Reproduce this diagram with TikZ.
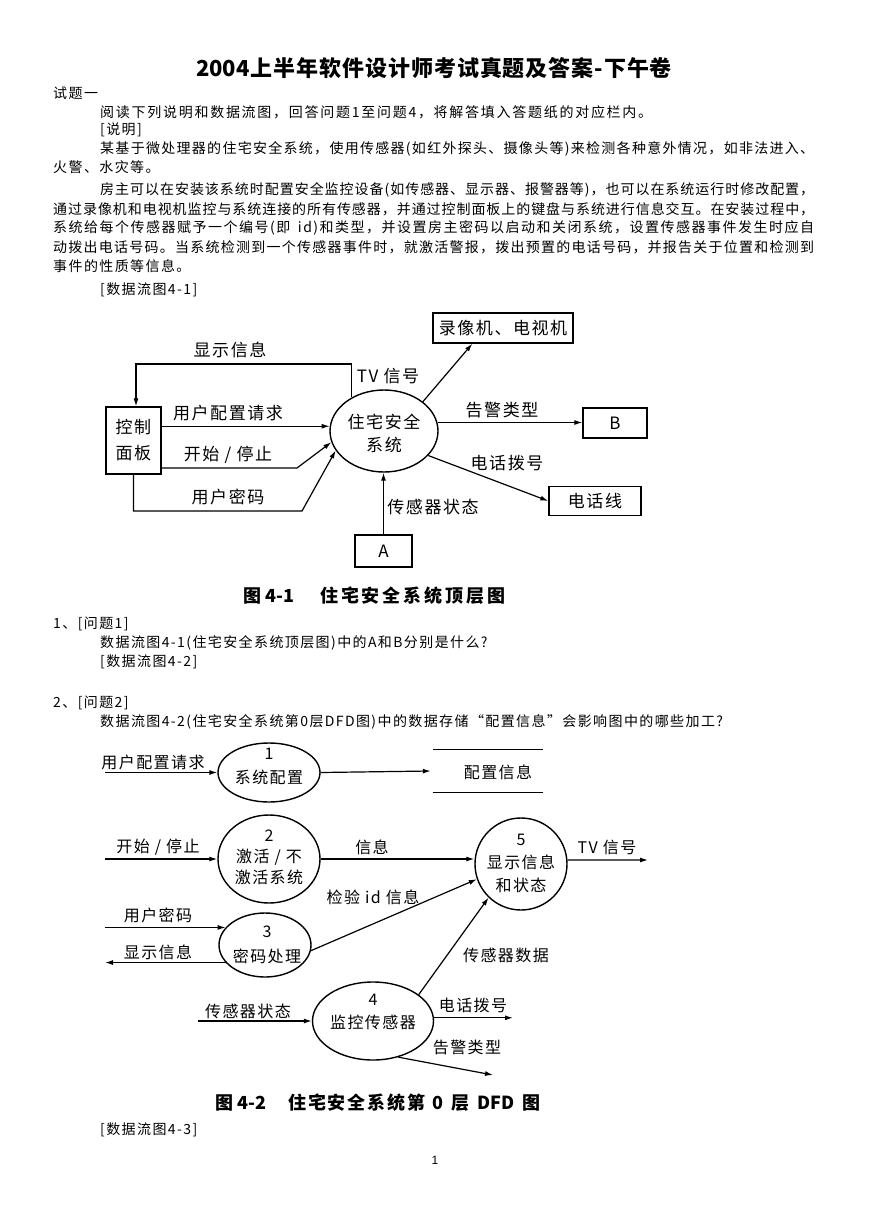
\documentclass[tikz,border=0pt]{standalone}
\usepackage{fontspec}
\setmainfont{Noto Sans CJK SC}
\newfontfamily\bodyf{Noto Sans CJK SC}[LetterSpace=10]
\newfontfamily\diaf{Noto Sans CJK SC}[LetterSpace=9]
\newfontfamily\titf{Noto Sans CJK SC}
\newfontfamily\pagef{Liberation Sans}
\usetikzlibrary{arrows.meta,shapes.geometric}
\makeatletter
\def\spreadbox#1#2{\hbox to #1{\sp@first#2\sp@end}}
\def\sp@first#1{#1\sp@loop}
\def\sp@loop#1{\ifx#1\sp@end\else\hskip 0pt plus 1fil\relax#1\expandafter\sp@loop\fi}
\def\sp@end{}
\makeatother
\newcommand\yr{2004}
\newcommand\dfd{DFD}
\newcommand\fone{4-1}
\newcommand\ftwo{4-2}
\begin{document}
\begin{tikzpicture}[x=1pt,y=-1pt,
  bodytext/.style={anchor=west,inner sep=0pt,font=\bodyf\fontsize{14}{16}\selectfont},
  lblA/.style={inner sep=0pt,font=\diaf\fontsize{17}{20}\selectfont},
  lblB/.style={inner sep=0pt,font=\diaf\fontsize{16}{19}\selectfont},
  ent/.style={draw,line width=1.3pt,inner sep=0pt,font=\diaf\fontsize{17}{20}\selectfont},
  proc/.style={draw,ellipse,line width=1.4pt,inner sep=0pt},
  flow/.style={line width=1.2pt,-{Latex[length=8pt,width=5pt]}},
  capt/.style={anchor=west,inner sep=0pt,font=\titf\bfseries\fontsize{18}{20}\selectfont}]
\useasboundingbox[fill=white] (0,0) rectangle (869,1228);

% ---------- header text ----------
\node[inner sep=0pt,font=\titf\bfseries\fontsize{22}{24}\selectfont] (title) at (434,68)
  {\spreadbox{476pt}{\yr 上半年软件设计师考试真题及答案-下午卷}};
\node[bodytext] (t1) at (53,93) {试题一};
\node[bodytext] (t2) at (100,112) {\spreadbox{552pt}{阅读下列说明和数据流图，回答问题1至问题4，将解答填入答题纸的对应栏内。}};
\node[bodytext] (t3) at (100,130) {[说明]};
\node[bodytext] (t4) at (100,149) {\spreadbox{714pt}{某基于微处理器的住宅安全系统，使用传感器(如红外探头、摄像头等)来检测各种意外情况，如非法进入、}};
\node[bodytext] (t5) at (53,167) {火警、水灾等。};
\node[bodytext] (t6) at (100,190) {\spreadbox{714pt}{房主可以在安装该系统时配置安全监控设备(如传感器、显示器、报警器等)，也可以在系统运行时修改配置，}};
\node[bodytext] (t7) at (53,209) {\spreadbox{761pt}{通过录像机和电视机监控与系统连接的所有传感器，并通过控制面板上的键盘与系统进行信息交互。在安装过程中，}};
\node[bodytext] (t8) at (53,228) {\spreadbox{761pt}{系统给每个传感器赋予一个编号(即\ id)和类型，并设置房主密码以启动和关闭系统，设置传感器事件发生时应自}};
\node[bodytext] (t9) at (53,247) {\spreadbox{761pt}{动拨出电话号码。当系统检测到一个传感器事件时，就激活警报，拨出预置的电话号码，并报告关于位置和检测到}};
\node[bodytext] (t10) at (53,266) {事件的性质等信息。};
\node[bodytext] (t11) at (100,290) {[数据流图4-1]};
\node[bodytext] (q1) at (53,624) {1、[问题1]};
\node[bodytext] (q1b) at (100,643) {数据流图4-1(住宅安全系统顶层图)中的A和B分别是什么?};
\node[bodytext] (q1c) at (100,662) {[数据流图4-2]};
\node[bodytext] (q2) at (53,703) {2、[问题2]};
\node[bodytext] (q2b) at (100,722) {数据流图4-2(住宅安全系统第0层DFD图)中的数据存储“配置信息”会影响图中的哪些加工?};
\node[bodytext] (q3) at (100,1130) {[数据流图4-3]};
\node[inner sep=0pt,font=\pagef\fontsize{12}{14}\selectfont] (pg) at (435,1160) {1};

% ---------- Figure 4-1 ----------
\node[ent,minimum width=140pt,minimum height=30pt] (rec) at (503,328) {录像机、电视机};
\node[ent,minimum width=55pt,minimum height=67pt,align=center,font=\diaf\fontsize{17}{26}\selectfont] (ctrl) at (133.5,440.5) {控制\\面板};
\node[proc,minimum width=108pt,minimum height=82pt] (sys) at (384,431) {};
\node[lblA,align=center,font=\diaf\fontsize{17}{23}\selectfont] (systxt) at (384,433) {住宅安全\\系统};
\node[ent,minimum width=64pt,minimum height=30pt] (B) at (615,423) {B};
\node[ent,minimum width=92pt,minimum height=29pt] (tel) at (595,501) {电话线};
\node[ent,minimum width=57pt,minimum height=32pt] (A) at (383.5,551) {A};

\coordinate (tl) at (136,364);
\draw[flow] (sys.134) |- (tl) -- (tl |- ctrl.north);
\draw[flow] (ctrl.east |- sys.175) -- (sys.175);
\coordinate (b2) at (297,468);
\draw[flow] (ctrl.east |- b2) -- (b2) -- (sys.192);
\coordinate (b3) at (302,511);
\draw[flow] (ctrl.south) |- (b3) -- (sys.202);
\draw[flow] (sys.37) -- ([xshift=40pt]rec.south west);
\draw[flow] (sys.9) -- (B.west |- sys.9);
\draw[flow] (sys.331) -- (tel.west);
\draw[flow] (A.north) -- (A.north |- sys.south);

\node[lblA] (l1) at (230,350) {显示信息};
\node[lblA] (l2) at (388,376) {TV 信号};
\node[lblA] (l3) at (228,413) {用户配置请求};
\node[lblA] (l4) at (228,455) {开始 / 停止};
\node[lblA] (l5) at (228,497) {用户密码};
\node[lblA] (l6) at (502,410) {告警类型};
\node[lblA] (l7) at (507,463) {电话拨号};
\node[lblA] (l8) at (433,507) {传感器状态};

\node[capt] (c1a) at (243,596) {图 4-1};
\node[capt] (c1b) at (320,596) {\spreadbox{185pt}{住宅安全系统顶层图}};

% ---------- Figure 4-2 ----------
\node[proc,minimum width=102pt,minimum height=59pt] (p1) at (269,772.5) {};
\node[lblB,align=center,font=\diaf\fontsize{16}{24}\selectfont] (p1t) at (269,766) {1\\系统配置};
\node[proc,minimum width=102pt,minimum height=88pt] (p2) at (269,859) {};
\node[lblB,align=center,font=\diaf\fontsize{16}{21}\selectfont] (p2t) at (269,857) {2\\激活 / 不\\激活系统};
\node[proc,minimum width=92pt,minimum height=92pt] (p5) at (521,864) {};
\node[lblB,align=center,font=\diaf\fontsize{16}{23}\selectfont] (p5t) at (521,863) {5\\显示信息\\和状态};
\node[proc,minimum width=92pt,minimum height=64pt] (p3) at (265,945) {};
\node[lblB,align=center,font=\diaf\fontsize{16}{25}\selectfont] (p3t) at (267,945) {3\\密码处理};
\node[proc,minimum width=121pt,minimum height=78pt] (p4) at (373,1021) {};
\node[lblB,align=center,font=\diaf\fontsize{16}{23}\selectfont] (p4t) at (373,1012) {4\\监控传感器};

\node[minimum width=110pt,minimum height=42pt,inner sep=0pt] (store) at (488,771) {};
\draw[line width=1.3pt] (store.north west) -- (store.north east) (store.south west) -- (store.south east);
\node[lblB] (storet) at (498,772) {配置信息};

\coordinate (i1) at (105,772.5);
\draw[flow] (i1) -- (p1.west);
\draw[flow] (p1.east) -- ([xshift=-2pt]store.west);
\coordinate (i2) at (105,859);
\draw[flow] (i2) -- (p2.west);
\draw[flow] (p2.east) -- (p5.west |- p2.east);
\coordinate (o5) at (648,860);
\draw[flow] (p5.5) -- (o5);
\draw[flow] (p3.353) -- (p5.199);
\coordinate (i3) at (105,0);
\draw[flow] (i3 |- p3.156) -- (p3.156);
\draw[flow] (p3.204) -- (i3 |- p3.204);
\draw[flow] (p4.30) -- (p5.226);
\coordinate (i4) at (198,0);
\draw[flow] (i4 |- p4.west) -- (p4.west);
\coordinate (o4) at (513,0);
\draw[flow] (p4.3) -- (o4 |- p4.3);
\coordinate (o4b) at (493,1075);
\draw[flow] (p4.305) -- (o4b);

\node[lblB] (m1) at (153,762) {用户配置请求};
\node[lblB] (m2) at (158,847) {开始 / 停止};
\node[lblB] (m3) at (372,847) {信息};
\node[lblB] (m4) at (607,847) {TV 信号};
\node[lblB] (m5) at (373,897) {检验 id 信息};
\node[lblB] (m6) at (158,915) {用户密码};
\node[lblB] (m7) at (158,952) {显示信息};
\node[lblB] (m8) at (506,955) {传感器数据};
\node[lblB] (m9) at (248,1011) {传感器状态};
\node[lblB] (m10) at (473,1005) {电话拨号};
\node[lblB] (m11) at (467,1047) {告警类型};

\node[capt] (c2a) at (215,1103) {图 4-2};
\node[capt] (c2b) at (288,1103) {\spreadbox{252pt}{住宅安全系统第\ 0\ 层\ \dfd\ 图}};
\end{tikzpicture}
\end{document}
